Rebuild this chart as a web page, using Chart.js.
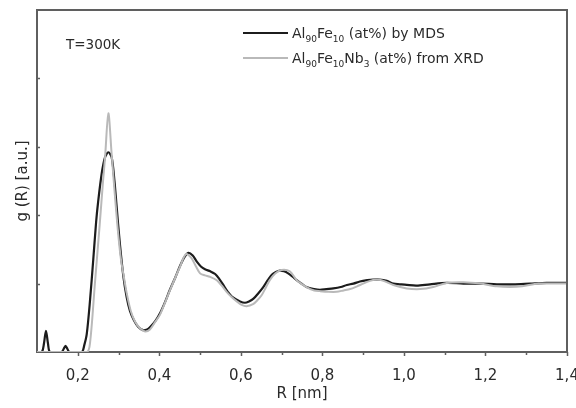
<!DOCTYPE html>
<html>
<head>
<meta charset="utf-8">
<script src="https://cdn.jsdelivr.net/npm/chart.js@4.4.1/dist/chart.umd.min.js"></script>
<style>
  html, body { margin: 0; padding: 0; background: #fff; }
</style>
</head>
<body>
<canvas id="rdf-chart" width="576" height="408"></canvas>
<script>
// g(R) of Al90Fe10 from MDS vs Al90Fe10Nb3 from XRD
const rMDS = [0.10, 0.112, 0.117, 0.122, 0.127, 0.132, 0.16, 0.165, 0.17, 0.175, 0.18,
    0.21, 0.216, 0.222, 0.23, 0.238, 0.245, 0.25, 0.259, 0.267, 0.275, 0.283, 0.29, 0.295,
    0.303, 0.312, 0.32, 0.328, 0.338, 0.348, 0.36, 0.37, 0.377, 0.39, 0.402, 0.414, 0.426,
    0.44, 0.451, 0.462, 0.471, 0.482, 0.492, 0.502, 0.512, 0.525, 0.537, 0.547, 0.557,
    0.568, 0.578, 0.598, 0.61, 0.62, 0.631, 0.643, 0.655, 0.666, 0.676, 0.686, 0.696,
    0.706, 0.716, 0.727, 0.737, 0.749, 0.761, 0.78, 0.794, 0.81, 0.827, 0.845, 0.86,
    0.876, 0.892, 0.91, 0.925, 0.94, 0.958, 0.974, 0.99, 1.007, 1.031, 1.064, 1.105,
    1.146, 1.187, 1.228, 1.268, 1.309, 1.35, 1.40];
const gMDS = [0, 0, 0.12, 0.31, 0.12, 0, 0, 0.04, 0.09, 0.04, 0,
    0, 0.1, 0.26, 0.75, 1.35, 1.9, 2.2, 2.62, 2.85, 2.92, 2.85, 2.5, 2.15,
    1.6, 1.1, 0.8, 0.6, 0.46, 0.37, 0.32, 0.33, 0.36, 0.45, 0.57, 0.73, 0.91,
    1.1, 1.26, 1.39, 1.45, 1.41, 1.32, 1.25, 1.21, 1.18, 1.14, 1.07, 0.98,
    0.88, 0.81, 0.74, 0.72, 0.74, 0.78, 0.86, 0.95, 1.05, 1.13, 1.17, 1.19,
    1.18, 1.15, 1.1, 1.05, 1.0, 0.95, 0.92, 0.91, 0.92, 0.93, 0.95, 0.98,
    1.0, 1.03, 1.05, 1.06, 1.06, 1.04, 1.0, 0.99, 0.98, 0.97, 0.99, 1.01,
    1.0, 1.0, 0.99, 0.99, 1.0, 1.01, 1.01];

const rXRD = [0.10, 0.222, 0.23, 0.242, 0.254, 0.262, 0.267, 0.275, 0.283, 0.29, 0.298,
    0.306, 0.313, 0.32, 0.33, 0.34, 0.352, 0.365, 0.377, 0.39, 0.402, 0.426, 0.451,
    0.465, 0.478, 0.49, 0.50, 0.512, 0.524, 0.541, 0.553, 0.565, 0.578, 0.59, 0.602,
    0.614, 0.63, 0.641, 0.651, 0.661, 0.671, 0.685, 0.70, 0.72, 0.737, 0.761, 0.78,
    0.794, 0.815, 0.835, 0.852, 0.868, 0.885, 0.90, 0.917, 0.933, 0.95, 0.974, 1.007,
    1.04, 1.072, 1.105, 1.146, 1.187, 1.228, 1.26, 1.29, 1.33, 1.40];
const gXRD = [0, 0, 0.13, 1.0, 1.88, 2.5, 2.85, 3.49, 2.9, 2.37, 1.8,
    1.35, 1.1, 0.86, 0.6, 0.45, 0.35, 0.3, 0.33, 0.44, 0.55, 0.9, 1.25,
    1.43, 1.38, 1.25, 1.15, 1.12, 1.1, 1.05, 0.97, 0.88, 0.8, 0.74, 0.69,
    0.67, 0.70, 0.76, 0.83, 0.94, 1.05, 1.15, 1.2, 1.18, 1.05, 0.95, 0.9,
    0.89, 0.88, 0.88, 0.9, 0.92, 0.96, 1.0, 1.04, 1.06, 1.04, 0.98, 0.93,
    0.92, 0.95, 1.01, 1.02, 1.0, 0.96, 0.95, 0.96, 1.0, 1.0];

const xTickValues = [0.2, 0.4, 0.6, 0.8, 1.0, 1.2, 1.4];
const xTickLabels = ['0,2', '0,4', '0,6', '0,8', '1,0', '1,2', '1,4'];
const xMinorTicks = [0.3, 0.5, 0.7, 0.9, 1.1, 1.3];
const yTickValues = [1, 2, 3, 4];

const FONT = 'DejaVu Sans';
const colors = {
    mds: '#1c1c1c',
    xrd: '#b9b9b9',
    axis: '#5f5f5f',
    text: '#2a2a2a'
};

// Legend entries with subscripts: [text, isSubscript]
const legendItems = [
    { color: colors.mds, parts: [['Al', false], ['90', true], ['Fe', false], ['10', true], [' (at%) by MDS', false]] },
    { color: colors.xrd, parts: [['Al', false], ['90', true], ['Fe', false], ['10', true], ['Nb', false], ['3', true], [' (at%) from XRD', false]] }
];

function toPoints(xs, ys) {
    return xs.map((x, i) => ({ x: x, y: ys[i] }));
}

function drawRich(ctx, x, y, parts) {
    ctx.textBaseline = 'alphabetic';
    ctx.textAlign = 'left';
    parts.forEach(([txt, sub]) => {
        ctx.font = (sub ? '9px ' : '14px ') + FONT;
        ctx.fillText(txt, x, sub ? y + 4 : y);
        x += ctx.measureText(txt).width;
    });
}

// Frame, tick marks, temperature note and legend
const decorPlugin = {
    id: 'decor',
    afterDraw(chart) {
        const ctx = chart.ctx;
        const area = chart.chartArea;
        const xs = chart.scales.x;
        const ys = chart.scales.y;
        ctx.save();

        ctx.strokeStyle = colors.axis;
        ctx.lineWidth = 2;
        ctx.beginPath();
        ctx.moveTo(area.left, area.top);
        ctx.lineTo(area.right, area.top);
        ctx.lineTo(area.right, area.bottom);
        ctx.stroke();

        ctx.lineWidth = 1.5;
        ctx.beginPath();
        xTickValues.forEach(v => {
            const px = Math.round(xs.getPixelForValue(v)) + 0.5;
            ctx.moveTo(px, area.bottom);
            ctx.lineTo(px, area.bottom + 4);
        });
        xMinorTicks.forEach(v => {
            const px = Math.round(xs.getPixelForValue(v)) + 0.5;
            ctx.moveTo(px, area.bottom);
            ctx.lineTo(px, area.bottom + 3);
        });
        yTickValues.forEach(v => {
            const py = Math.round(ys.getPixelForValue(v)) + 0.5;
            ctx.moveTo(area.left, py);
            ctx.lineTo(area.left + 3, py);
        });
        ctx.stroke();

        ctx.fillStyle = colors.text;
        ctx.font = '13.5px ' + FONT;
        ctx.fillText('T=300K', 66, 49);

        legendItems.forEach((item, i) => {
            const y = 33 + i * 25;
            ctx.strokeStyle = item.color;
            ctx.lineWidth = 2;
            ctx.beginPath();
            ctx.moveTo(243, y);
            ctx.lineTo(288, y);
            ctx.stroke();
            ctx.fillStyle = colors.text;
            drawRich(ctx, 292, y + 5, item.parts);
        });

        ctx.restore();
    }
};

const ctx = document.getElementById('rdf-chart').getContext('2d');
new Chart(ctx, {
    type: 'line',
    data: {
        datasets: [
            {
                label: 'XRD',
                data: toPoints(rXRD, gXRD),
                borderColor: colors.xrd,
                borderWidth: 2,
                pointRadius: 0,
                tension: 0.3
            },
            {
                label: 'MDS',
                data: toPoints(rMDS, gMDS),
                borderColor: colors.mds,
                borderWidth: 2.2,
                pointRadius: 0,
                tension: 0.3
            }
        ]
    },
    options: {
        responsive: false,
        animation: false,
        layout: { padding: { top: 10, right: 9, left: 0, bottom: 0 } },
        plugins: {
            legend: { display: false },
            tooltip: { enabled: false }
        },
        scales: {
            x: {
                type: 'linear',
                min: 0.1,
                max: 1.4,
                afterBuildTicks: scale => {
                    scale.ticks = xTickValues.map(v => ({ value: v }));
                },
                afterFit: scale => {
                    scale.height = 56;
                    scale.paddingLeft = 0;
                    scale.paddingRight = 0;
                },
                grid: { display: false },
                border: { display: true, color: colors.axis, width: 2 },
                ticks: {
                    autoSkip: false,
                    maxRotation: 0,
                    padding: 7,
                    color: colors.text,
                    font: { family: FONT, size: 15 },
                    callback: (value, index) => xTickLabels[index]
                },
                title: {
                    display: true,
                    text: 'R [nm]',
                    color: colors.text,
                    font: { family: FONT, size: 15 },
                    padding: { top: 0, bottom: 5 }
                }
            },
            y: {
                min: 0,
                max: 5,
                afterFit: scale => {
                    scale.width = 37;
                },
                grid: { display: false },
                border: { display: true, color: colors.axis, width: 2 },
                ticks: { display: false },
                title: {
                    display: true,
                    text: 'g (R) [a.u.]',
                    color: colors.text,
                    font: { family: FONT, size: 15 },
                    padding: { top: 14, bottom: 0 }
                }
            }
        }
    },
    plugins: [decorPlugin]
});
</script>
</body>
</html>
